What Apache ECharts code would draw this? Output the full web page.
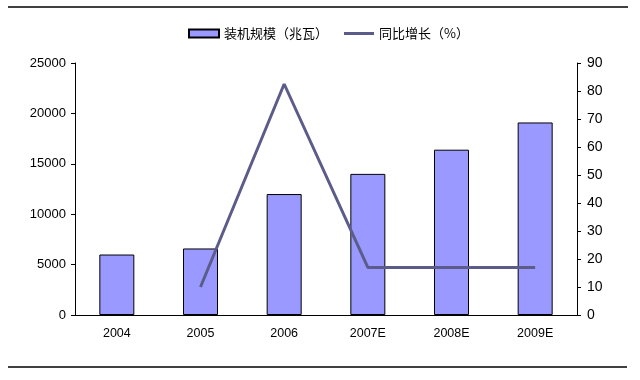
<!DOCTYPE html>
<html><head><meta charset="utf-8">
<script src="https://cdn.jsdelivr.net/npm/echarts@6/dist/echarts.min.js"></script>
<style>html,body{margin:0;padding:0;background:#fff}#c{width:640px;height:380px}</style>
</head><body><div id="c"></div>
<script>
const categories = ['2004','2005','2006','2007E','2008E','2009E'];
const capacity = [6000, 6600, 12000, 14000, 16400, 19100];
const growth = [null, 10, 82.5, 17, 17, 17];
const leftTicks = [0, 5000, 10000, 15000, 20000, 25000];
const rightTicks = [0, 10, 20, 30, 40, 50, 60, 70, 80, 90];

const chart = echarts.init(document.getElementById('c'), null, {renderer:'canvas'});
const lab = {color:'#000', fontFamily:'Liberation Sans, Arial, sans-serif', fontSize:13};
chart.setOption({
  animation:false,
  backgroundColor:'#fff',
  graphic:[
    {type:'line', shape:{x1:8,y1:7,x2:628,y2:7}, style:{stroke:'#000', lineWidth:1.5}},
    {type:'line', shape:{x1:8,y1:367,x2:627,y2:367}, style:{stroke:'#000', lineWidth:1.5}}
  ],
  legend:{
    top:22, left:183, itemGap:16, itemWidth:30, itemHeight:8,
    textStyle:{fontFamily:'Noto Sans CJK SC', fontSize:13, color:'#000'},
    data:[
      {name:'装机规模（兆瓦）', icon:'rect'},
      {name:'同比增长（%）', icon:'path://M0,0L30,0L30,3L0,3Z'}
    ]
  },
  grid:{left:75, right:63, top:63, bottom:65},
  xAxis:{
    type:'category', data:categories, boundaryGap:true,
    axisLine:{lineStyle:{color:'#000', width:1}},
    axisTick:{inside:true, length:4, lineStyle:{color:'#000'}},
    axisLabel:Object.assign({margin:12}, lab, {fontSize:12.5})
  },
  yAxis:[
    {type:'value', min:0, max:25000, interval:5000,
     axisLine:{show:true, lineStyle:{color:'#000'}},
     axisTick:{show:true, length:4, lineStyle:{color:'#000'}},
     splitLine:{show:false},
     axisLabel:Object.assign({margin:9, formatter:function(v){return String(v);}}, lab)},
    {type:'value', min:0, max:90, interval:10,
     axisLine:{show:true, lineStyle:{color:'#000'}},
     axisTick:{show:true, length:4, lineStyle:{color:'#000'}},
     splitLine:{show:false},
     axisLabel:Object.assign({margin:10}, lab, {fontSize:14})}
  ],
  series:[
    {name:'装机规模（兆瓦）', type:'bar', data:capacity, barWidth:35,
     itemStyle:{color:'#9999ff', borderColor:'#000', borderWidth:1}},
    {name:'同比增长（%）', type:'line', yAxisIndex:1, data:growth,
     symbol:'none', lineStyle:{color:'#5c5c8a', width:3}, itemStyle:{color:'#5c5c8a'}}
  ]
});
</script></body></html>
